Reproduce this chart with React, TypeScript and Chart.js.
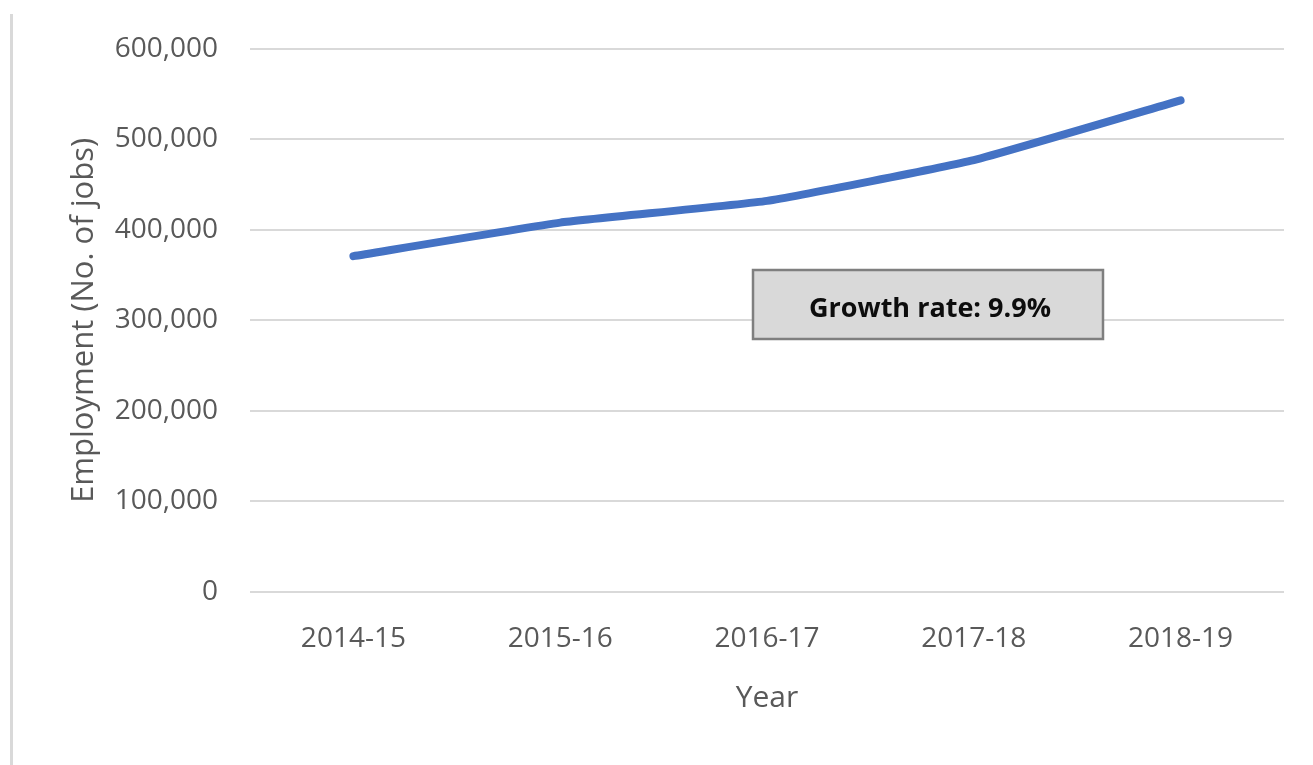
import React, { useEffect, useRef } from "react";
import { Chart, registerables } from "chart.js";

Chart.register(...registerables);

const categories = ["2014-15", "2015-16", "2016-17", "2017-18", "2018-19"];
const employment = [371000, 408000, 432000, 477000, 543000];
const yTickMax = 600000;
const yTickStep = 100000;
const yAxisTitle = "Employment (No. of jobs)";
const xAxisTitle = "Year";
const growthLabel = "Growth rate: 9.9%";

const FONT = "'Open Sans', 'Noto Sans', sans-serif";
const TEXT = "#595959";

const growthBoxPlugin = {
  id: "growthBox",
  afterDatasetsDraw(chart: any) {
    const ctx = chart.ctx;
    const x = 753, y = 270, w = 350, h = 69;
    ctx.save();
    ctx.fillStyle = "#d9d9d9";
    ctx.fillRect(x, y, w, h);
    ctx.strokeStyle = "#7f7f7f";
    ctx.lineWidth = 2.5;
    ctx.strokeRect(x, y, w, h);
    ctx.fillStyle = "#0d0d0d";
    ctx.font = `bold 27px ${FONT}`;
    ctx.textAlign = "center";
    ctx.textBaseline = "middle";
    ctx.fillText(growthLabel, x + w / 2 + 2, y + h / 2 + 5);
    ctx.restore();
  },
};

export default function App() {
  const ref = useRef<HTMLCanvasElement>(null);
  useEffect(() => {
    if (!ref.current) return;
    const chart = new Chart(ref.current, {
      type: "line",
      data: {
        labels: categories,
        datasets: [
          {
            data: employment,
            borderColor: "#4472c4",
            borderWidth: 8,
            borderCapStyle: "round",
            borderJoinStyle: "round",
            pointRadius: 0,
            tension: 0.12,
            fill: false,
          },
        ],
      },
      options: {
        responsive: false,
        animation: false,
        layout: { padding: { top: 30, right: 29, bottom: 0, left: 0 } },
        plugins: { legend: { display: false }, tooltip: { enabled: false } },
        scales: {
          x: {
            offset: true,
            grid: { display: false, drawTicks: false },
            border: { display: false },
            ticks: { color: TEXT, font: { family: FONT, size: 28 }, padding: 30, maxRotation: 0 },
            title: {
              display: true,
              text: xAxisTitle,
              color: TEXT,
              font: { family: FONT, size: 30 },
              padding: { top: 0, bottom: 49 },
            },
            afterFit(scale: any) {
              scale.height = 173;
            },
          },
          y: {
            min: 0,
            max: yTickMax,
            grid: { color: "#d9d9d9", lineWidth: 2, drawTicks: false },
            border: { display: false },
            ticks: {
              stepSize: yTickStep,
              color: TEXT,
              font: { family: FONT, size: 28 },
              padding: 32,
              callback: (v: any) => Number(v).toLocaleString("en-US"),
            },
            title: {
              display: true,
              text: yAxisTitle,
              color: TEXT,
              font: { family: FONT, size: 31 },
              padding: { top: 66, bottom: 0 },
            },
            afterFit(scale: any) {
              scale.width = 250;
            },
          },
        },
      },
      plugins: [growthBoxPlugin],
    });
    return () => chart.destroy();
  }, []);
  return (
    <div style={{ position: "fixed", left: 0, top: 0, width: 1313, height: 765, background: "#fff" }}>
      <div style={{ position: "absolute", left: 10, top: 14, width: 3, height: 751, background: "#d9d9d9" }} />
      <canvas ref={ref} width={1313} height={765} style={{ position: "absolute", left: 0, top: 0, display: "block" }} />
    </div>
  );
}
